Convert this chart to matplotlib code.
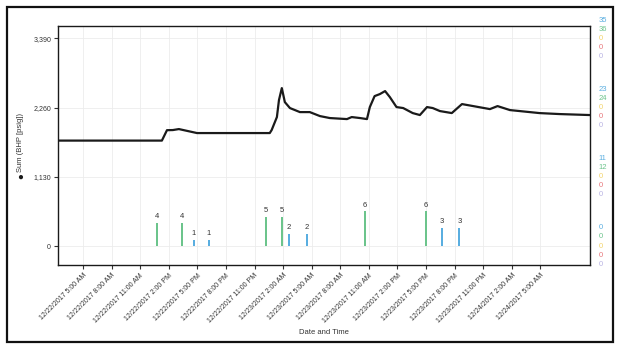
import pandas as pd
import matplotlib.pyplot as plt
import matplotlib.dates as mdates
from matplotlib.patches import Rectangle
from matplotlib.transforms import blended_transform_factory, offset_copy

# pressure line
bhp_times = ['2017-12-22 02:23', '2017-12-22 13:17', '2017-12-22 13:49', '2017-12-22 14:26',
             '2017-12-22 15:04', '2017-12-22 16:58', '2017-12-23 00:36', '2017-12-23 00:48',
             '2017-12-23 01:21', '2017-12-23 01:34', '2017-12-23 01:52', '2017-12-23 02:11',
             '2017-12-23 02:43', '2017-12-23 03:46', '2017-12-23 04:48', '2017-12-23 05:52',
             '2017-12-23 06:54', '2017-12-23 08:42', '2017-12-23 09:12', '2017-12-23 10:04',
             '2017-12-23 10:48', '2017-12-23 11:06', '2017-12-23 11:36', '2017-12-23 12:09',
             '2017-12-23 12:42', '2017-12-23 13:12', '2017-12-23 13:54', '2017-12-23 14:36',
             '2017-12-23 15:36', '2017-12-23 16:21', '2017-12-23 17:06', '2017-12-23 17:42',
             '2017-12-23 18:27', '2017-12-23 19:42', '2017-12-23 20:46', '2017-12-23 23:42',
             '2017-12-24 00:30', '2017-12-24 01:48', '2017-12-24 04:54', '2017-12-24 07:00',
             '2017-12-24 10:10']
bhp_values = [1720, 1720, 1890, 1892, 1908, 1843, 1843, 1892, 2104, 2381, 2577, 2348,
              2251, 2185, 2185, 2120, 2088, 2071, 2104, 2088, 2071, 2267, 2446, 2479,
              2528, 2430, 2267, 2251, 2169, 2137, 2267, 2251, 2202, 2169, 2316, 2234,
              2283, 2218, 2169, 2153, 2137]

# event bars (green / blue series)
green_times = ['2017-12-22 12:46', '2017-12-22 15:23', '2017-12-23 00:12',
               '2017-12-23 01:54', '2017-12-23 10:36', '2017-12-23 17:00']
green_counts = [4, 4, 5, 5, 6, 6]
blue_times = ['2017-12-22 16:38', '2017-12-22 18:12', '2017-12-23 02:36',
              '2017-12-23 04:30', '2017-12-23 18:42', '2017-12-23 20:30']
blue_counts = [1, 1, 2, 2, 3, 3]

y_ticks = [0, 1130, 2260, 3390]
y_tick_labels = ['0', '1,130', '2,260', '3,390']
right_labels = {
    '#5aaee0': ['0', '11', '23', '35'],
    '#6cc48c': ['0', '12', '24', '36'],
    '#f3d46a': ['0', '0', '0', '0'],
    '#e8767a': ['0', '0', '0', '0'],
    '#b9b3e3': ['0', '0', '0', '0'],
}
green_max = 36
blue_max = 35

x_ticks = pd.date_range('2017-12-22 05:00', '2017-12-24 05:00', freq='3h')
x_tick_labels = ['12/22/2017 5:00 AM', '12/22/2017 8:00 AM', '12/22/2017 11:00 AM',
                 '12/22/2017 2:00 PM', '12/22/2017 5:00 PM', '12/22/2017 8:00 PM',
                 '12/22/2017 11:00 PM', '12/23/2017 2:00 AM', '12/23/2017 5:00 AM',
                 '12/23/2017 8:00 AM', '12/23/2017 11:00 AM', '12/23/2017 2:00 PM',
                 '12/23/2017 5:00 PM', '12/23/2017 8:00 PM', '12/23/2017 11:00 PM',
                 '12/24/2017 2:00 AM', '12/24/2017 5:00 AM']

plt.rcParams['font.family'] = ['Liberation Sans', 'DejaVu Sans']

fig = plt.figure(figsize=(6.24, 3.5), dpi=100)
ax = fig.add_axes([58 / 624, 85 / 350, 532 / 624, 239 / 350])

ylim = (-310, 3590)
bhp_t = pd.to_datetime(bhp_times)
ax.plot(bhp_t, bhp_values, color='#1a1a1a', linewidth=1.6, zorder=3)
ax.set_ylim(*ylim)
ax.set_xlim(bhp_t[0], pd.Timestamp('2017-12-24 10:12'))

ax.set_yticks(y_ticks)
ax.set_yticklabels(y_tick_labels)
ax.set_xticks(x_ticks)
ax.set_xticklabels(x_tick_labels, rotation=45, ha='right', rotation_mode='anchor')
ax.tick_params(axis='both', labelsize=5, colors='#333333', length=3, width=0.8, pad=2)
ax.tick_params(axis='y', right=True)
ax.grid(True, color='#ececec', linewidth=0.6)
ax.set_axisbelow(True)
for sp in ax.spines.values():
    sp.set_color('#1a1a1a')
    sp.set_linewidth(1.0)
ax.set_xlabel('Date and Time', fontsize=5.5, color='#333333', labelpad=3)

# bars on their own scales
bar_w = 0.009
for times, counts, top, color in [(green_times, green_counts, green_max, '#6cc48c'),
                                  (blue_times, blue_counts, blue_max, '#5aaee0')]:
    tw = ax.twinx()
    tw.set_ylim(ylim[0] * top / 3390, ylim[1] * top / 3390)
    tw.axis('off')
    t = pd.to_datetime(times)
    tw.bar(t, counts, width=bar_w, color=color, zorder=2)
    for ti, c in zip(t, counts):
        tw.annotate(str(c), (mdates.date2num(ti), c), xytext=(0, 2), textcoords='offset points',
                    ha='center', va='bottom', fontsize=5.5, color='#333333')
    tw.set_xlim(ax.get_xlim())

# right side stacked labels
trans = blended_transform_factory(ax.transAxes, ax.transData)
offsets = [13, 6.5, 0, -6.5, -13]
for (color, labels), dy in zip(right_labels.items(), offsets):
    for yt, lab in zip(y_ticks, labels):
        tr = offset_copy(trans, fig=fig, x=6, y=dy, units='points')
        ax.text(1.0, yt, lab, transform=tr, fontsize=5.5, color=color, ha='left', va='center')

# y label with marker
fig.text(20 / 624, (350 - 143) / 350, 'Sum (BHP [psig])', rotation=90, fontsize=5.5,
         color='#333333', ha='center', va='center')
fig.text(20 / 624, (350 - 177) / 350, '\u25cf', fontsize=7, color='#1a1a1a',
         ha='center', va='center')

# outer frame
fig.patches.append(Rectangle((7 / 624, 8 / 350), 606 / 624, 335 / 350, transform=fig.transFigure,
                             fill=False, edgecolor='#111111', linewidth=1.6))

fig.savefig('out.png', dpi=100)
